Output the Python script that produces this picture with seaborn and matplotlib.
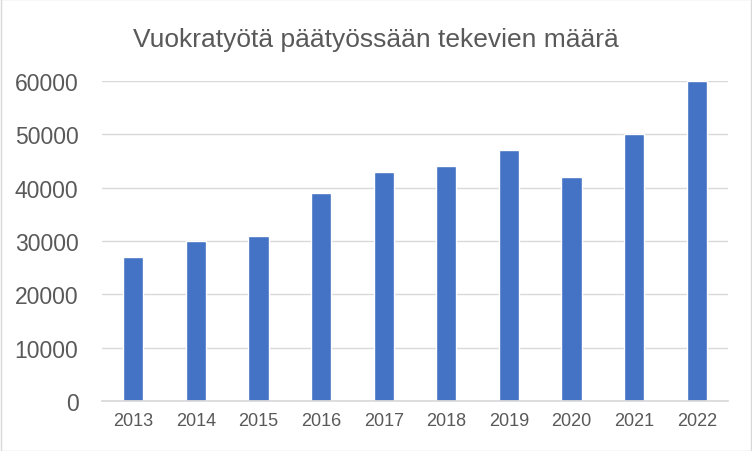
import matplotlib
matplotlib.use("Agg")
import matplotlib.pyplot as plt
import seaborn as sns
import pandas as pd

years = ["2013","2014","2015","2016","2017","2018","2019","2020","2021","2022"]
values = [27000,30000,31000,39000,43000,44000,47000,42000,50000,60000]
yticks = [0,10000,20000,30000,40000,50000,60000]

sns.set_theme(style="white")
plt.rcParams['font.family'] = ['Liberation Sans', 'DejaVu Sans']

fig = plt.figure(figsize=(7.52,4.52), dpi=100)
ax = fig.add_axes([102/752, 1-402/452, 626/752, 320/452])
df = pd.DataFrame({"year": years, "value": values})
sns.barplot(data=df, x="year", y="value", color="#4472C4", saturation=1, width=0.32, ax=ax)
ax.set_ylim(0, 60000)
ax.set_yticks(yticks)
ax.set_yticklabels([str(v) for v in yticks], fontsize=16.5, color="#595959")
ax.tick_params(axis='x', labelsize=13, colors="#595959", length=0, pad=8)
ax.tick_params(axis='y', length=0, pad=17)
ax.grid(axis='y', color="#D9D9D9", linewidth=1)
ax.set_axisbelow(True)
for s in ["top","right","left"]:
    ax.spines[s].set_visible(False)
ax.spines["bottom"].set_color("#D9D9D9")
ax.set_xlabel(""); ax.set_ylabel("")
fig.text(0.5, 1-40/452, "Vuokratyötä päätyössään tekevien määrä", ha="center", va="center",
         fontsize=19, color="#595959")
fig.patches.append(plt.Rectangle((0.001,0.001),0.998,0.998, transform=fig.transFigure,
                                 fill=False, edgecolor="#D9D9D9", linewidth=1))
fig.savefig("out.png", dpi=100)
